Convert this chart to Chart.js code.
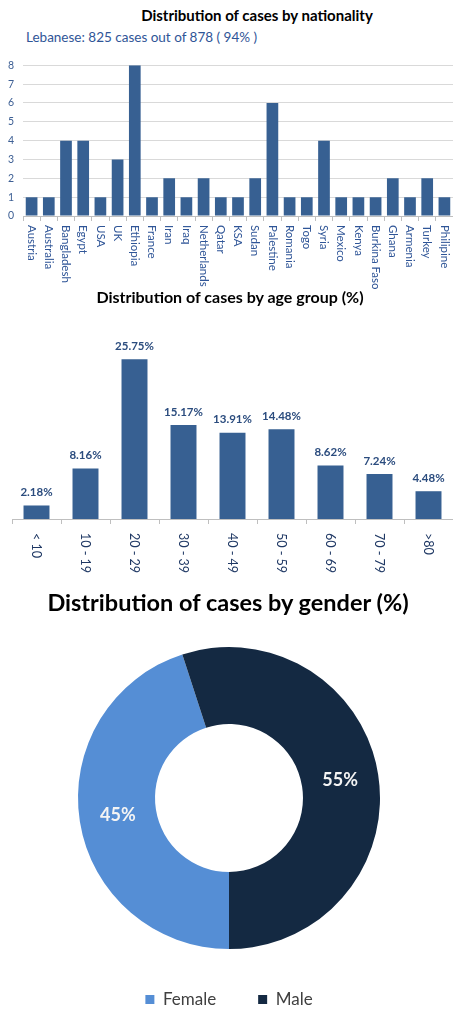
<!DOCTYPE html>
<html>
<head>
<meta charset="utf-8">
<script src="https://cdn.jsdelivr.net/npm/chart.js@4.4.0/dist/chart.umd.min.js"></script>
<style>
  body { margin: 0; background: #fff; font-family: 'Lato', sans-serif; }
  .page { position: relative; width: 453px; height: 1018px; overflow: hidden; }
  .title { position: absolute; transform: translateX(-50%); font-weight: bold; color: #000; white-space: nowrap; }
  .sub { position: absolute; white-space: nowrap; color: #2f5597; }
  .box { position: absolute; left: 0; width: 453px; }
</style>
</head>
<body>
<div class="page">
  <div class="title" style="left:257px; top:6px; font-size:15px; line-height:18px;">Distribution of cases by nationality</div>
  <div class="sub" style="left:26px; top:29px; font-size:13.5px; line-height:16px;">Lebanese: 825 cases out of 878 ( 94% )</div>
  <div class="box" style="top:50px; height:240px;"><canvas id="natChart"></canvas></div>

  <div class="title" style="left:230px; top:287px; font-size:16px; line-height:20px;">Distribution of cases by age group (%)</div>
  <div class="box" style="top:310px; height:270px;"><canvas id="ageChart"></canvas></div>

  <div class="title" style="left:228px; top:587px; font-size:23.5px; line-height:30px;">Distribution of cases by gender (%)</div>
  <div class="box" style="top:630px; height:388px;"><canvas id="genderChart"></canvas></div>
</div>

<script>
// --- data ---
const nationalities = ['Austria', 'Australia', 'Bangladesh', 'Egypt', 'USA', 'UK', 'Ethiopia', 'France',
  'Iran', 'Iraq', 'Netherlands', 'Qatar', 'KSA', 'Sudan', 'Palestine', 'Romania', 'Togo', 'Syria',
  'Mexico', 'Kenya', 'Burkina Faso', 'Ghana', 'Armenia', 'Turkey', 'Philipine'];
const nationalityCases = [1, 1, 4, 4, 1, 3, 8, 1, 2, 1, 2, 1, 1, 2, 6, 1, 1, 4, 1, 1, 1, 2, 1, 2, 1];

const ageGroups = ['< 10', '10 - 19', '20 - 29', '30 - 39', '40 - 49', '50 - 59', '60 - 69', '70 - 79', '>80'];
const agePercents = [2.18, 8.16, 25.75, 15.17, 13.91, 14.48, 8.62, 7.24, 4.48];

const genders = ['Female', 'Male'];
const genderPercents = [45, 55];

Chart.defaults.font.family = "'Lato', sans-serif";
Chart.defaults.animation = false;

// x labels rotated to read top-to-bottom, like the original
const downLabels = {
  id: 'downLabels',
  afterDraw(chart, args, opts) {
    const xs = chart.scales.x;
    const ctx = chart.ctx;
    ctx.save();
    ctx.fillStyle = opts.color;
    ctx.font = opts.font;
    ctx.textAlign = 'left';
    ctx.textBaseline = 'middle';
    chart.data.labels.forEach((lab, i) => {
      ctx.save();
      ctx.translate(xs.getPixelForValue(i), xs.top + opts.offset);
      ctx.rotate(Math.PI / 2);
      ctx.fillText(lab, 0, 0);
      ctx.restore();
    });
    ctx.restore();
  }
};

// percentage labels on top of the age bars
const barValues = {
  id: 'barValues',
  afterDatasetsDraw(chart, args, opts) {
    const ctx = chart.ctx;
    const values = chart.data.datasets[0].data;
    ctx.save();
    ctx.fillStyle = opts.color;
    ctx.font = opts.font;
    ctx.textAlign = 'center';
    ctx.textBaseline = 'middle';
    chart.getDatasetMeta(0).data.forEach((bar, i) => {
      ctx.fillText(values[i].toFixed(2) + '%', bar.x, bar.y - opts.offset);
    });
    ctx.restore();
  }
};

// percentage labels inside the doughnut slices
const sliceValues = {
  id: 'sliceValues',
  afterDatasetsDraw(chart, args, opts) {
    const ctx = chart.ctx;
    const values = chart.data.datasets[0].data;
    ctx.save();
    ctx.fillStyle = opts.color;
    ctx.font = opts.font;
    ctx.textAlign = 'center';
    ctx.textBaseline = 'middle';
    chart.getDatasetMeta(0).data.forEach((arc, i) => {
      const p = arc.tooltipPosition();
      ctx.fillText(values[i] + '%', p.x, p.y);
    });
    ctx.restore();
  }
};

new Chart(document.getElementById('natChart'), {
  type: 'bar',
  data: {
    labels: nationalities,
    datasets: [{
      data: nationalityCases,
      backgroundColor: '#376092',
      categoryPercentage: 0.68,
      barPercentage: 1
    }]
  },
  options: {
    responsive: true,
    maintainAspectRatio: false,
    layout: { padding: { top: 9, right: 0, left: 0, bottom: 0 } },
    scales: {
      x: {
        grid: { offset: true, drawOnChartArea: false, tickLength: 5, color: '#bfbfbf' },
        border: { color: '#bfbfbf' },
        ticks: { display: false },
        afterFit(s) { s.height = 74; }
      },
      y: {
        min: 0,
        max: 8,
        ticks: { stepSize: 1, color: '#3d5f94', font: { size: 10.5 }, padding: 9 },
        grid: { color: '#d9d9d9', drawTicks: false },
        border: { display: false },
        afterFit(s) { s.width = 23; }
      }
    },
    plugins: {
      legend: { display: false },
      tooltip: { enabled: false },
      downLabels: { color: '#2f5597', font: "11.5px 'Lato', sans-serif", offset: 9 }
    }
  },
  plugins: [downLabels]
});

new Chart(document.getElementById('ageChart'), {
  type: 'bar',
  data: {
    labels: ageGroups,
    datasets: [{
      data: agePercents,
      backgroundColor: '#376092',
      categoryPercentage: 0.53,
      barPercentage: 1
    }]
  },
  options: {
    responsive: true,
    maintainAspectRatio: false,
    layout: { padding: { top: 23, right: 0, left: 12, bottom: 0 } },
    scales: {
      x: {
        grid: { offset: true, drawOnChartArea: false, tickLength: 5, color: '#bfbfbf' },
        border: { color: '#bfbfbf' },
        ticks: { display: false },
        afterFit(s) { s.height = 61; }
      },
      y: { display: false, min: 0, max: 30 }
    },
    plugins: {
      legend: { display: false },
      tooltip: { enabled: false },
      downLabels: { color: '#1f3864', font: "12.5px 'Lato', sans-serif", offset: 14 },
      barValues: { color: '#2b4c7e', font: "bold 11.5px 'Lato', sans-serif", offset: 13 }
    }
  },
  plugins: [downLabels, barValues]
});

new Chart(document.getElementById('genderChart'), {
  type: 'doughnut',
  data: {
    labels: genders,
    datasets: [{
      data: genderPercents,
      backgroundColor: ['#558ed5', '#142942'],
      borderWidth: 0,
      hoverOffset: 0
    }]
  },
  options: {
    responsive: true,
    maintainAspectRatio: false,
    cutout: '49%',
    rotation: 180,
    layout: { padding: { top: 17, right: 72, left: 77, bottom: 0 } },
    plugins: {
      legend: {
        position: 'bottom',
        labels: { boxWidth: 9, boxHeight: 9, padding: 42, color: '#404040', font: { size: 17 } }
      },
      tooltip: { enabled: false },
      sliceValues: { color: '#f4f4f4', font: "bold 18px 'Lato', sans-serif" }
    }
  },
  plugins: [sliceValues]
});
</script>
</body>
</html>
